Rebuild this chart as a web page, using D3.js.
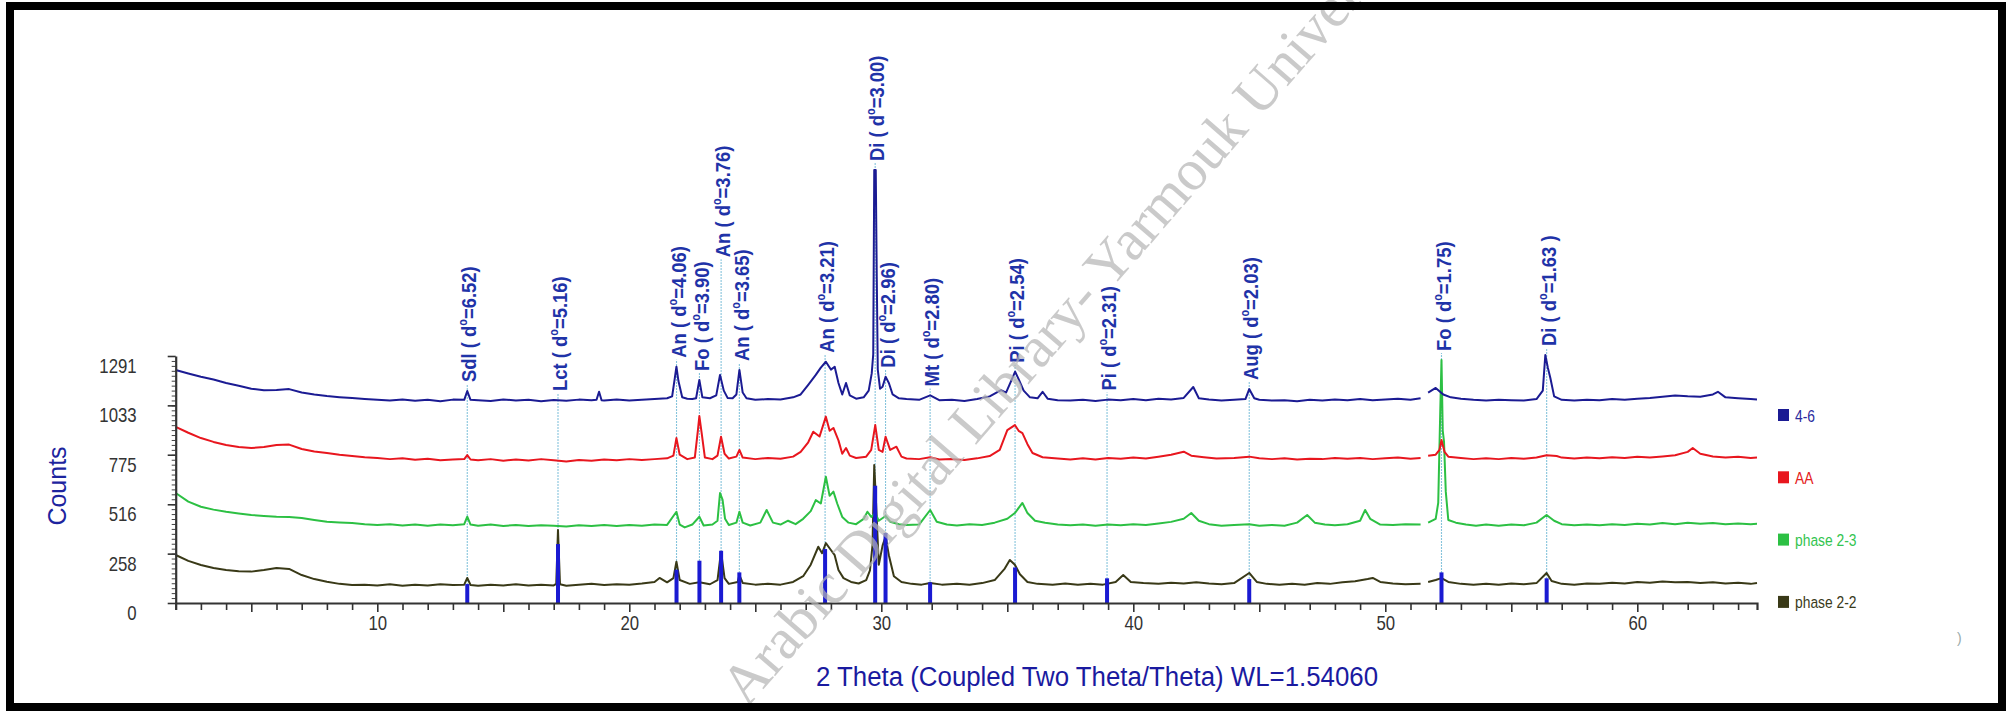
<!DOCTYPE html>
<html>
<head>
<meta charset="utf-8">
<script src="https://cdn.jsdelivr.net/npm/d3@7"></script>
<style>
  body { margin: 0; background: #fff; }
  svg { display: block; }
</style>
</head>
<body>
<div id="chart"></div>
<script>
// ---- data ----
var seriesNames = ["4-6", "AA", "phase 2-3", "phase 2-2"];
var yTickValues = [0, 258, 516, 775, 1033, 1291];
var xTickLabels = [10, 20, 30, 40, 50, 60];
var wavelength = 1.5406;

// identified phases: name, d-spacing (Angstrom), reference stick height (counts)
var phaseNames = ["Sdl", "Lct", "An", "Fo", "An", "An", "An", "Di", "Di", "Mt", "Pi", "Pi", "Aug", "Fo", "Di"];
var dSpacings = ["6.52", "5.16", "4.06", "3.90", "3.76", "3.65", "3.21", "3.00", "2.96", "2.80", "2.54", "2.31", "2.03", "1.75", "1.63"];
var labelClosers = [")", ")", ")", ")", ")", ")", ")", ")", ")", ")", ")", ")", ")", ")", " )"];
var stickCounts = [99, 308, 174, 221, 273, 160, 282, 613, 366, 108, 186, 129, 125, 160, 129];

// scans: [2theta, counts]; null marks the gap in the measurement
var scan46 = [[2,1218],[2.5,1200],[3,1183],[3.5,1168],[4,1150],[4.5,1135],[5,1120],[5.5,1112],[6,1113],[6.5,1118],[7,1100],[7.5,1090],[8,1082],[8.5,1076],[9,1071],[9.5,1066],[10,1062],[10.5,1058],[11,1064],[11.5,1057],[12,1062],[12.5,1055],[13,1063],[13.45,1062],[13.57,1108],[13.7,1062],[14,1060],[14.5,1056],[15,1064],[15.5,1058],[16,1062],[16.5,1055],[17,1061],[17.5,1057],[18,1063],[18.5,1060],[18.7,1062],[18.8,1104],[18.9,1060],[19,1058],[19.5,1064],[20,1059],[20.5,1062],[21,1066],[21.5,1070],[21.7,1080],[21.8,1170],[21.87,1235],[21.95,1160],[22.1,1075],[22.3,1068],[22.5,1066],[22.65,1070],[22.78,1166],[22.9,1075],[23.2,1070],[23.45,1085],[23.6,1192],[23.75,1110],[23.9,1072],[24.1,1070],[24.25,1090],[24.37,1218],[24.5,1100],[24.65,1070],[25,1062],[25.5,1066],[26,1064],[26.5,1075],[26.8,1090],[27.1,1140],[27.4,1192],[27.6,1230],[27.8,1261],[28,1220],[28.15,1235],[28.3,1150],[28.45,1090],[28.6,1150],[28.75,1085],[29,1068],[29.3,1075],[29.5,1110],[29.62,1200],[29.68,1300],[29.72,2263],[29.78,2263],[29.82,1704],[29.86,1220],[29.95,1120],[30.05,1130],[30.17,1183],[30.3,1150],[30.45,1090],[30.7,1070],[31,1066],[31.5,1062],[31.94,1085],[32.3,1060],[32.8,1062],[33.3,1056],[33.8,1066],[34.3,1080],[34.75,1113],[34.95,1100],[35.15,1160],[35.31,1209],[35.45,1170],[35.65,1110],[35.9,1075],[36.2,1070],[36.4,1104],[36.6,1068],[37,1060],[37.5,1058],[38,1062],[38.5,1056],[39,1063],[39.5,1060],[40,1066],[40.5,1060],[41,1068],[41.5,1064],[42,1072],[42.38,1129],[42.6,1070],[43,1064],[43.5,1058],[44,1062],[44.45,1066],[44.6,1118],[44.8,1070],[45,1062],[45.5,1058],[46,1060],[46.5,1055],[47,1062],[47.5,1058],[48,1064],[48.5,1060],[49,1066],[49.5,1060],[50,1064],[50.5,1068],[51,1062],[51.4,1070],[51.55,null],[51.7,1100],[52,1124],[52.3,1090],[52.6,1075],[53,1068],[53.5,1062],[54,1058],[54.5,1062],[55,1060],[55.5,1058],[56,1066],[56.25,1110],[56.35,1296],[56.45,1230],[56.55,1176],[56.7,1080],[57,1062],[57.5,1058],[58,1062],[58.5,1060],[59,1066],[59.5,1062],[60,1068],[60.5,1072],[61,1078],[61.5,1085],[62,1080],[62.5,1078],[63,1090],[63.2,1104],[63.5,1075],[64,1070],[64.5,1066],[64.75,1064]];

var scanAA = [[2,921],[2.5,890],[3,862],[3.5,842],[4,826],[4.5,815],[5,810],[5.5,815],[6,826],[6.5,828],[7,805],[7.5,792],[8,784],[8.5,775],[9,768],[9.5,762],[10,758],[10.5,752],[11,756],[11.5,749],[12,754],[12.5,746],[13,750],[13.45,752],[13.57,773],[13.7,750],[14,746],[14.5,752],[15,744],[15.5,750],[16,745],[16.5,752],[17,746],[17.5,740],[18,748],[18.5,744],[19,750],[19.5,746],[20,752],[20.5,748],[21,752],[21.5,756],[21.75,770],[21.87,862],[22,775],[22.3,752],[22.6,760],[22.72,900],[22.78,977],[22.88,880],[23,760],[23.3,752],[23.5,770],[23.64,869],[23.78,780],[23.95,755],[24.25,765],[24.37,800],[24.5,760],[25,752],[25.5,758],[26,754],[26.5,765],[26.8,790],[27.1,840],[27.3,895],[27.55,870],[27.8,974],[27.95,900],[28.1,915],[28.3,850],[28.45,780],[28.6,810],[28.75,770],[29,758],[29.4,765],[29.6,800],[29.76,930],[29.9,800],[30.05,790],[30.17,869],[30.35,800],[30.6,817],[30.8,765],[31,755],[31.5,752],[31.94,762],[32.3,750],[32.8,752],[33.3,748],[33.8,756],[34.3,768],[34.7,800],[35,904],[35.3,930],[35.45,900],[35.6,888],[35.8,830],[36,784],[36.4,762],[37,755],[37.5,750],[38,756],[38.5,750],[39,758],[39.5,754],[40,760],[40.5,755],[41,765],[41.5,775],[42,791],[42.3,770],[42.8,762],[43.3,755],[44,758],[44.6,765],[45,756],[45.5,752],[46,756],[46.5,750],[47,754],[47.5,752],[48,758],[48.5,754],[49,758],[49.5,752],[50,756],[50.5,760],[51,754],[51.4,758],[51.55,null],[51.7,770],[52,775],[52.15,800],[52.23,852],[52.35,790],[52.5,765],[53,758],[53.5,752],[54,756],[54.5,752],[55,758],[55.5,754],[56,760],[56.4,772],[56.8,768],[57,760],[57.5,755],[58,760],[58.5,756],[59,762],[59.5,758],[60,764],[60.5,760],[61,766],[61.5,772],[62,790],[62.2,810],[62.5,780],[63,766],[63.5,760],[64,764],[64.5,758],[64.75,760]];

var scan23 = [[2,575],[2.5,530],[3,503],[3.5,488],[4,477],[4.5,468],[5,460],[5.5,455],[6,451],[6.5,450],[7,444],[7.5,434],[8,425],[8.5,421],[9,418],[9.5,412],[10,408],[10.5,412],[11,405],[11.5,410],[12,404],[12.5,410],[13,406],[13.45,412],[13.57,451],[13.7,410],[14,404],[14.5,410],[15,403],[15.5,408],[16,402],[16.5,407],[17,404],[17.5,400],[18,406],[18.5,402],[19,408],[19.5,403],[20,408],[20.5,404],[21,410],[21.5,408],[21.87,477],[22,410],[22.2,395],[22.5,410],[22.78,451],[22.95,405],[23.3,410],[23.5,430],[23.6,575],[23.7,540],[23.8,440],[23.95,408],[24.25,420],[24.37,477],[24.5,420],[24.8,405],[25.2,420],[25.45,486],[25.7,420],[26,410],[26.3,430],[26.6,412],[26.9,440],[27.2,480],[27.4,538],[27.6,520],[27.8,660],[27.95,560],[28.1,582],[28.25,520],[28.45,450],[28.7,420],[29,412],[29.3,440],[29.45,477],[29.6,450],[29.76,470],[29.9,430],[30.17,455],[30.35,425],[30.7,412],[31,408],[31.5,410],[31.94,486],[32.2,425],[32.6,410],[33,405],[33.5,412],[34,408],[34.5,420],[35,440],[35.3,470],[35.6,523],[35.8,470],[36.1,430],[36.5,420],[37,410],[37.5,406],[38,410],[38.5,404],[39,410],[39.5,406],[40,412],[40.5,408],[41,416],[41.5,424],[42,440],[42.3,470],[42.6,430],[43,412],[43.5,404],[44,408],[44.6,412],[45,404],[45.5,408],[46,404],[46.5,420],[46.9,460],[47.2,420],[47.6,410],[48,406],[48.5,412],[49,430],[49.2,486],[49.4,440],[49.8,410],[50.3,408],[50.8,412],[51.4,410],[51.55,null],[51.7,420],[52,440],[52.1,523],[52.18,1000],[52.23,1270],[52.28,900],[52.33,843],[52.4,582],[52.5,434],[52.8,420],[53.2,410],[53.6,404],[54,410],[54.5,404],[55,410],[55.5,406],[56,420],[56.4,460],[56.7,430],[57,412],[57.5,406],[58,410],[58.5,406],[59,412],[59.5,408],[60,414],[60.5,410],[61,418],[61.5,412],[62,420],[62.5,414],[63,418],[63.5,412],[64,416],[64.5,412],[64.75,414]];

var scan22 = [[2,251],[2.5,220],[3,199],[3.5,183],[4,172],[4.5,166],[5,164],[5.5,172],[6,183],[6.5,178],[7,146],[7.5,125],[8,111],[8.5,100],[9,94],[9.5,96],[10,92],[10.5,98],[11,90],[11.5,96],[12,92],[12.5,98],[13,94],[13.45,96],[13.57,131],[13.7,94],[14,90],[14.5,96],[15,92],[15.5,98],[16,92],[16.5,96],[17,92],[17.1,100],[17.17,382],[17.25,98],[17.5,90],[18,96],[18.5,100],[19,94],[19.5,98],[20,96],[20.5,102],[21,110],[21.2,131],[21.5,108],[21.75,130],[21.87,216],[22,120],[22.4,100],[22.78,108],[23.2,98],[23.5,120],[23.64,268],[23.78,130],[23.95,100],[24.3,110],[24.37,146],[24.5,105],[25,96],[25.5,100],[26,96],[26.5,110],[26.9,140],[27.2,200],[27.5,294],[27.65,260],[27.8,313],[28,277],[28.15,250],[28.3,172],[28.5,130],[28.8,110],[29.1,102],[29.4,120],[29.55,170],[29.65,300],[29.72,721],[29.8,500],[29.9,200],[30.05,300],[30.17,347],[30.3,250],[30.5,140],[30.8,110],[31.2,100],[31.6,96],[31.94,104],[32.4,96],[33,100],[33.5,96],[34,104],[34.5,120],[34.9,180],[35.1,225],[35.3,200],[35.5,150],[35.8,110],[36.2,100],[36.8,96],[37.3,102],[37.8,96],[38.3,100],[38.8,96],[39.3,110],[39.6,146],[39.9,110],[40.4,104],[41,100],[41.5,106],[42,102],[42.5,108],[43,102],[43.5,98],[44,104],[44.6,157],[44.9,110],[45.3,100],[45.8,96],[46.3,100],[46.8,96],[47.3,104],[47.8,100],[48.3,108],[48.8,114],[49.3,125],[49.5,131],[49.8,110],[50.3,102],[50.8,98],[51.4,100],[51.55,null],[51.7,110],[52,120],[52.23,130],[52.5,110],[53,100],[53.5,96],[54,100],[54.5,96],[55,102],[55.5,98],[56,104],[56.4,157],[56.6,115],[57,100],[57.5,96],[58,102],[58.5,100],[59,106],[59.5,102],[60,110],[60.5,106],[61,112],[61.5,108],[62,110],[62.5,104],[63,108],[63.5,102],[64,106],[64.5,100],[64.75,104]];

var scans = [scan46, scanAA, scan23, scan22];

// ---- styling ----
var traceColors = ["#1b1b93", "#e8161e", "#2cc043", "#393917"];
var legendTextColors = ["#2a2a9e", "#e42020", "#33c450", "#3a3a1a"];
var labelBlue = "#1f33a8";
var W = 2009, H = 713;
var sans = "'Liberation Sans',Arial,sans-serif";
var squeeze = 0.84;   // the original uses a condensed face

var svg = d3.select("#chart").append("svg")
    .attr("width", W)
    .attr("height", H);

svg.append("rect").attr("width", W).attr("height", H).attr("fill", "#fff");

var x = d3.scaleLinear().domain([2, 64.75]).range([175.7, 1757]);
var y = d3.scaleLinear().domain([0, 1291]).range([603, 356]);

// reference positions from Bragg's law
var peaks = phaseNames.map(function(n, i) {
    var d = +dSpacings[i];
    var tt = 2 * Math.asin(wavelength / (2 * d)) * 180 / Math.PI;
    return { name: n, dText: dSpacings[i], closer: labelClosers[i], tt: tt, stick: stickCounts[i] };
});

// label foot sits just above the highest trace around the line
peaks.forEach(function(p) {
    var top = 0;
    scans.forEach(function(s) {
        s.forEach(function(pt) {
            if (pt[1] != null && Math.abs(pt[0] - p.tt) <= 0.2) top = Math.max(top, pt[1]);
        });
    });
    p.x = x(p.tt);
    p.base = y(top) - 9;
});

var refG = svg.append("g");
var traceG = svg.append("g");
var stickG = svg.append("g");
var labelG = svg.append("g");

// labels first so we can measure them
var labelScale = 0.9;
var labels = labelG.selectAll("text").data(peaks).join("text")
    .attr("dy", "0.4em")
    .attr("fill", labelBlue)
    .style("font-family", sans)
    .style("font-weight", "bold")
    .style("font-size", "20.5px");

labels.each(function(p) {
    var t = d3.select(this);
    t.append("tspan").text(p.name + " ( d");
    t.append("tspan").attr("dy", -9).style("font-size", "12px").text("o");
    t.append("tspan").attr("dy", 9).text("=" + p.dText + p.closer);
    p.len = this.getComputedTextLength() * labelScale;
});

// push a label up when it would collide with a taller neighbour
var placed = [];
peaks.slice().sort(function(a, b) { return a.base - b.base; }).forEach(function(p) {
    placed.forEach(function(q) {
        if (Math.abs(p.x - q.x) < 19 && p.base - p.len < q.base && q.base - q.len < p.base) {
            p.base = q.base - q.len + 8;
        }
    });
    placed.push(p);
});

labels.attr("transform", function(p) {
    return "translate(" + (p.x + 1) + "," + p.base + ") rotate(-90) scale(" + labelScale + ",1)";
});

// thin reference lines
refG.selectAll("line").data(peaks).join("line")
    .attr("x1", function(p) { return p.x; })
    .attr("x2", function(p) { return p.x; })
    .attr("y1", y(0))
    .attr("y2", function(p) { return p.base + 2; })
    .attr("stroke", "#86c4dc")
    .attr("stroke-width", 1.1)
    .attr("stroke-dasharray", "2,1");

// scans
var line = d3.line()
    .defined(function(d) { return d[1] != null; })
    .x(function(d) { return x(d[0]); })
    .y(function(d) { return y(d[1]); });

traceG.selectAll("path").data(scans.slice().reverse()).join("path")
    .attr("d", line)
    .attr("fill", "none")
    .attr("stroke", function(d, i) { return traceColors[3 - i]; })
    .attr("stroke-width", 2)
    .attr("stroke-linejoin", "round");

// reference sticks
stickG.selectAll("rect").data(peaks).join("rect")
    .attr("x", function(p) { return p.x - 2; })
    .attr("width", 4)
    .attr("y", function(p) { return y(p.stick); })
    .attr("height", function(p) { return y(0) - y(p.stick); })
    .attr("fill", "#1a1ad2");

// axes
var xAxis = svg.append("g")
    .attr("transform", "translate(0," + y(0) + ")")
    .call(d3.axisBottom(x)
        .tickValues(d3.range(2, 65, 1))
        .tickSizeOuter(0)
        .tickSize(7)
        .tickFormat(function(v) { return xTickLabels.indexOf(v) >= 0 ? v : ""; }));
xAxis.select(".domain").attr("stroke", "#333").attr("stroke-width", 2.2);
xAxis.selectAll(".tick line").attr("stroke", "#333").attr("stroke-width", 1.6)
    .attr("y2", function(v) { return v % 5 === 0 ? 9 : 7; });
xAxis.selectAll(".tick text")
    .attr("y", 20).attr("dy", "0.36em")
    .attr("transform", "scale(" + squeeze + ",1)")
    .attr("fill", "#333")
    .style("font-family", sans).style("font-size", "20px");

var yMinor = svg.append("g")
    .attr("transform", "translate(" + x(2) + ",0)")
    .call(d3.axisLeft(y).tickValues(d3.range(0, 1291, 1291 / 50)).tickSize(4).tickFormat(""));
yMinor.select(".domain").remove();
yMinor.selectAll(".tick line").attr("stroke", "#444").attr("stroke-width", 1);

var yAxis = svg.append("g")
    .attr("transform", "translate(" + x(2) + ",0)")
    .call(d3.axisLeft(y).tickValues(yTickValues).tickSize(8).tickSizeOuter(0)
        .tickFormat(d3.format("d")));
yAxis.select(".domain").attr("stroke", "#333").attr("stroke-width", 2.2);
yAxis.selectAll(".tick line").attr("stroke", "#333").attr("stroke-width", 1.6);
yAxis.selectAll(".tick text")
    .attr("x", -39 / squeeze)
    .attr("y", 10)
    .attr("transform", "scale(" + squeeze + ",1)")
    .attr("fill", "#333")
    .style("font-family", sans).style("font-size", "20px");

// axis titles
svg.append("text")
    .attr("transform", "translate(57,486) rotate(-90)")
    .attr("text-anchor", "middle")
    .attr("dy", "0.36em")
    .attr("fill", "#1d249e")
    .style("font-family", sans)
    .style("font-size", "25px")
    .text("Counts");

svg.append("text")
    .attr("x", 816).attr("y", 686)
    .attr("textLength", 562).attr("lengthAdjust", "spacingAndGlyphs")
    .attr("fill", "#1a1aa0")
    .style("font-family", sans)
    .style("font-size", "27px")
    .text("2 Theta (Coupled Two Theta/Theta) WL=1.54060");

// legend
var legend = svg.append("g").attr("transform", "translate(1778,409)");
var items = legend.selectAll("g").data(seriesNames).join("g")
    .attr("transform", function(d, i) { return "translate(0," + (i * 62.3) + ")"; });
items.append("rect").attr("width", 11).attr("height", 12)
    .attr("fill", function(d, i) { return traceColors[i]; });
items.append("text")
    .attr("transform", "translate(17,12.5) scale(" + squeeze + ",1)")
    .attr("fill", function(d, i) { return legendTextColors[i]; })
    .style("font-family", sans)
    .style("font-size", "16.5px")
    .text(function(d) { return d; });

// stray marks of the scanned page
svg.append("text").attr("x", 1957).attr("y", 643).attr("fill", "#9aa")
    .style("font-family", sans).style("font-size", "14px").text(")");

// library watermark
svg.append("text")
    .attr("transform", "translate(1068,308) rotate(-49)")
    .attr("text-anchor", "middle")
    .attr("dy", "0.35em")
    .attr("fill", "#b4b4b4")
    .attr("fill-opacity", 0.7)
    .style("font-family", "'Liberation Serif','Times New Roman',serif")
    .style("font-size", "58px")
    .text("Arabic Digital Library- Yarmouk University");

// page frame
svg.append("rect")
    .attr("x", 10).attr("y", 6).attr("width", 1992).attr("height", 701)
    .attr("fill", "none").attr("stroke", "#000").attr("stroke-width", 8);
</script>
</body>
</html>
